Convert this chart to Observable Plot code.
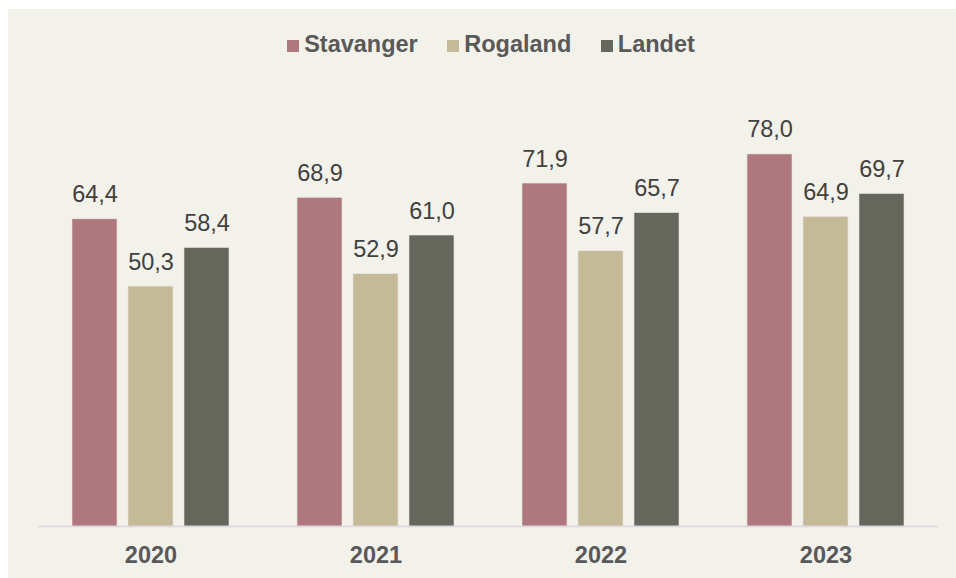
<!DOCTYPE html>
<html>
<head>
<meta charset="utf-8">
<script src="https://cdn.jsdelivr.net/npm/d3@7"></script>
<script src="https://cdn.jsdelivr.net/npm/@observablehq/plot@0.6"></script>
<style>
  html, body { margin: 0; padding: 0; background: #ffffff; }
  #wrap { position: absolute; left: 8px; top: 9px; width: 948px; height: 569px; background: #f2f1ea; overflow: hidden; font-family: "Liberation Sans", Arial, sans-serif; }
  #legend { height: 61px; box-sizing: border-box; padding-top: 22px; padding-left: 18px; display: flex; justify-content: center; font-size: 23.5px; line-height: 27px; font-weight: bold; color: #595959; }
  .item { margin: 0 14.75px; white-space: nowrap; }
  .sw { display: inline-block; width: 12px; height: 12px; margin-right: 5px; vertical-align: baseline; }
  svg { display: block; }
</style>
</head>
<body>
<div id="wrap">
  <div id="legend"></div>
  <div id="chart"></div>
</div>
<script>
const years = ["2020", "2021", "2022", "2023"];
const series = ["Stavanger", "Rogaland", "Landet"];
const colors = ["#ae787e", "#c4ba97", "#65665c"];
const stavanger = [64.4, 68.9, 71.9, 78.0];
const rogaland = [50.3, 52.9, 57.7, 64.9];
const landet = [58.4, 61.0, 65.7, 69.7];

const valuesBySeries = [stavanger, rogaland, landet];
const data = [];
years.forEach((y, i) => series.forEach((s, j) => data.push({year: y, series: s, value: valuesBySeries[j][i]})));

const fmt = v => d3.format(".1f")(v).replace(".", ",");

const legend = document.getElementById("legend");
series.forEach((s, j) => {
  const it = document.createElement("span");
  it.className = "item";
  it.innerHTML = `<span class="sw" style="background:${colors[j]}"></span>${s}`;
  legend.appendChild(it);
});

const chart = Plot.plot({
  width: 948,
  height: 508,
  marginLeft: 28,
  marginRight: 17,
  marginTop: 74.4,
  marginBottom: 52,
  style: {background: "transparent", fontFamily: "'Liberation Sans', Arial, sans-serif"},
  fx: {domain: years, padding: 0, label: null, axis: null},
  x: {domain: series, paddingInner: 0.2035, paddingOuter: 0.6, axis: null},
  y: {domain: [0, 80], axis: null},
  color: {domain: series, range: colors},
  marks: [
    Plot.barY(data, {fx: "year", x: "series", y: "value", fill: "series", stroke: "#e8e4e4", strokeWidth: 0.6}),
    Plot.text(data, {fx: "year", x: "series", y: "value", text: d => fmt(d.value), lineAnchor: "bottom", dy: -17, fontSize: 23.5, fill: "#404040"}),
    Plot.ruleY([0], {stroke: "#d9d6df", strokeWidth: 1.5}),
    Plot.axisFx({anchor: "bottom", tickSize: 0, tickPadding: 20, fontSize: 23.5, fontWeight: "bold", color: "#595959", label: null})
  ]
});
document.getElementById("chart").appendChild(chart);
</script>
</body>
</html>
